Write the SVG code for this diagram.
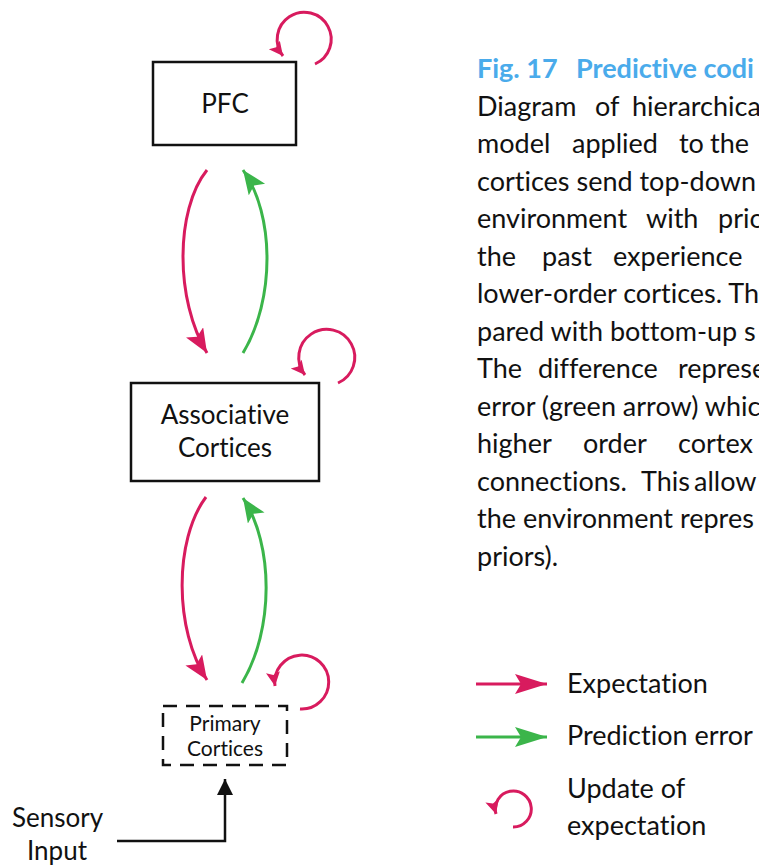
<svg xmlns="http://www.w3.org/2000/svg" width="759" height="865" viewBox="0 0 759 865">
<defs>
<style>
.t{font-family:Lato,"Open Sans","DejaVu Sans",sans-serif;fill:#111;font-variant-ligatures:none;font-feature-settings:"liga" 0}
.body{font-size:27px}
.title{font-size:27px;font-weight:bold;fill:#4AABEB}
.lbl{font-size:26px;text-anchor:middle}
.box{fill:#fff;stroke:#111;stroke-width:2.5}
.exp{fill:none;stroke:#D81B5E;stroke-width:3}
.err{fill:none;stroke:#3BB54A;stroke-width:3}
.loop{fill:none;stroke:#D81B5E;stroke-width:3}
</style>
<marker id="ahP" markerUnits="userSpaceOnUse" markerWidth="30" markerHeight="24" refX="24" refY="10" orient="auto"><path d="M0,0 L24,10 L0,20 L5,10 Z" fill="#D81B5E"/></marker>
<marker id="ahG" markerUnits="userSpaceOnUse" markerWidth="30" markerHeight="24" refX="24" refY="10" orient="auto"><path d="M0,0 L24,10 L0,20 L5,10 Z" fill="#3BB54A"/></marker>
<marker id="ahL" markerUnits="userSpaceOnUse" markerWidth="20" markerHeight="16" refX="14" refY="7" orient="auto"><path d="M0,0 L14,7 L0,14 L3,7 Z" fill="#D81B5E"/></marker>
<marker id="ahK" markerUnits="userSpaceOnUse" markerWidth="20" markerHeight="20" refX="16" refY="8" orient="auto"><path d="M0,0 L16,8 L0,16 Z" fill="#111"/></marker>
<marker id="lgP" markerUnits="userSpaceOnUse" markerWidth="36" markerHeight="24" refX="32" refY="10" orient="auto"><path d="M0,0 L32,10 L0,20 L6,10 Z" fill="#D81B5E"/></marker>
<marker id="lgG" markerUnits="userSpaceOnUse" markerWidth="36" markerHeight="24" refX="32" refY="10" orient="auto"><path d="M0,0 L32,10 L0,20 L6,10 Z" fill="#3BB54A"/></marker>
</defs>
<rect width="759" height="865" fill="#fff"/>

<g id="connectors">
<path class="exp" d="M207,170 C175,210 175,300 207,353" marker-end="url(#ahP)"/>
<path class="err" d="M243,353 C275,300 275,215 243,170" marker-end="url(#ahG)"/>
<path class="exp" d="M206,497 C174,540 174,630 207,680" marker-end="url(#ahP)"/>
<path class="err" d="M242,683 C274,630 274,545 243,498" marker-end="url(#ahG)"/>
<path class="loop" d="M315,64 A27,27 0 1 0 283,56" marker-end="url(#ahL)"/>
<path class="loop" d="M338,383 A28,28 0 1 0 305,375" marker-end="url(#ahL)"/>
<path class="loop" d="M300,709 A27,27 0 1 0 275,686" marker-end="url(#ahL)"/>
<path fill="none" stroke="#111" stroke-width="2.5" d="M117,841 H225 V779" marker-end="url(#ahK)"/>
</g>

<g id="pfc">
<rect class="box" x="153" y="62" width="143" height="83"/>
<text class="t lbl" x="225" y="113" font-size="24">PFC</text>
</g>
<g id="associative">
<rect class="box" x="131" y="383" width="188" height="98"/>
<text class="t lbl" x="225" y="424">Associative</text>
<text class="t lbl" x="225" y="457">Cortices</text>
</g>
<g id="primary">
<rect x="163" y="706" width="124" height="59" fill="#fff" stroke="#111" stroke-width="2.5" stroke-dasharray="14,9"/>
<text class="t lbl" x="225" y="731" style="font-size:21px">Primary</text>
<text class="t lbl" x="225" y="756" style="font-size:21px">Cortices</text>
</g>
<g id="sensory">
<text class="t" x="12" y="827" font-size="26">Sensory</text>
<text class="t" x="27" y="860" font-size="26">Input</text>
</g>

<g id="caption">
<text class="t title" y="78"><tspan x="477">Fig. 17 </tspan><tspan x="576">Predictive codi</tspan></text>
<text class="t body" y="116"><tspan x="477">Diagram </tspan><tspan x="595">of </tspan><tspan x="632">hierarchica</tspan></text>
<text class="t body" y="153"><tspan x="477">model </tspan><tspan x="572">applied </tspan><tspan x="679">to </tspan><tspan x="710">the</tspan></text>
<text class="t body" x="477" y="191">cortices send top-down</text>
<text class="t body" y="228"><tspan x="477">environment </tspan><tspan x="646">with </tspan><tspan x="718">prio</tspan></text>
<text class="t body" y="266"><tspan x="477">the </tspan><tspan x="542">past </tspan><tspan x="613">experience</tspan></text>
<text class="t body" x="477" y="303">lower-order cortices. Th</text>
<text class="t body" x="477" y="341">pared with bottom-up s</text>
<text class="t body" y="378"><tspan x="477">The </tspan><tspan x="538">difference </tspan><tspan x="678">represe</tspan></text>
<text class="t body" x="477" y="416">error (green arrow) whic</text>
<text class="t body" y="453"><tspan x="477">higher </tspan><tspan x="583">order </tspan><tspan x="678">cortex</tspan></text>
<text class="t body" y="491"><tspan x="477">connections. </tspan><tspan x="641">This </tspan><tspan x="694">allow</tspan></text>
<text class="t body" x="477" y="528">the environment repres</text>
<text class="t body" x="477" y="566">priors).</text>
</g>

<g id="legend">
<path class="exp" d="M476,684 H547" marker-end="url(#lgP)"/>
<path class="err" d="M476,737 H547" marker-end="url(#lgG)"/>
<path class="loop" d="M513,827 A18,18 0 1 0 496,814" marker-end="url(#ahL)"/>
<text class="t body" x="567" y="693">Expectation</text>
<text class="t body" x="567" y="745">Prediction error</text>
<text class="t body" x="567" y="798">Update of</text>
<text class="t body" x="567" y="835">expectation</text>
</g>
</svg>
